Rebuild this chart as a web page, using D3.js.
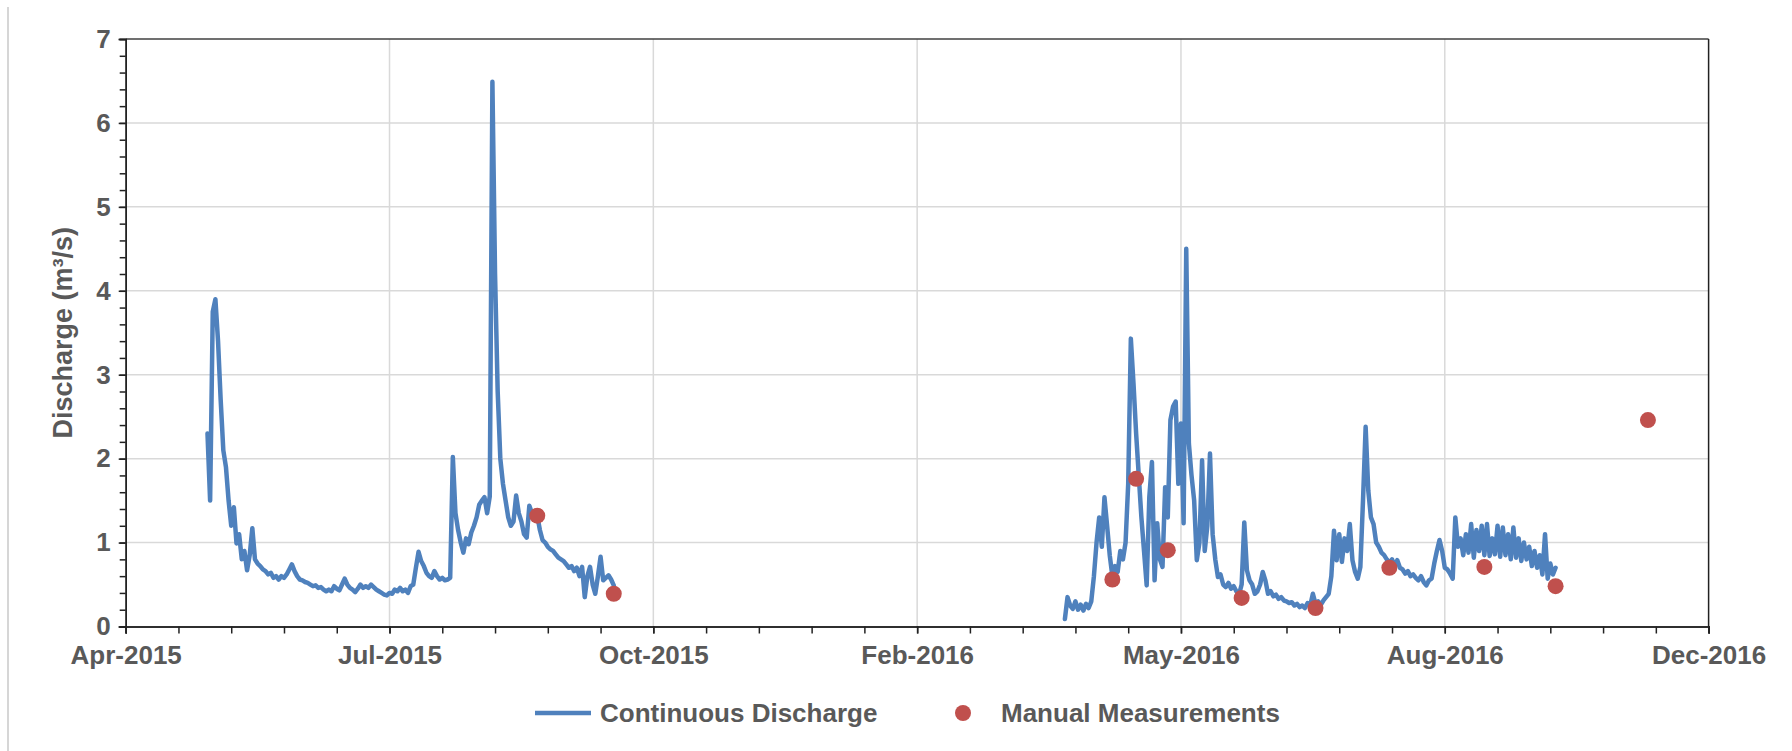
<!DOCTYPE html>
<html><head><meta charset="utf-8">
<script src="https://cdn.jsdelivr.net/npm/d3@7/dist/d3.min.js"></script>
<style>body{margin:0;background:#fff}text{font-family:"Liberation Sans",Arial,sans-serif}</style>
</head><body>
<svg id="chart" width="1792" height="751"></svg>
<script>
// ---- data ----
const xTickLabels = ["Apr-2015","Jul-2015","Oct-2015","Feb-2016","May-2016","Aug-2016","Dec-2016"];
const xDomain = ["2015-04-12","2016-12-02"];
const xMajorDays = 100;
const xMinorDays = 20;
const yTicks = [0,1,2,3,4,5,6,7];
const yMinorStep = 0.2;

const seg2015Start = "2015-05-13";
const seg2015Values = [
2.3,1.5,3.75,3.9,3.4,2.7,2.1,1.9,1.5,1.2,1.42,0.99,1.1,0.8,0.9,0.67,0.85,1.17,0.8,0.75,
0.72,0.68,0.66,0.62,0.64,0.58,0.6,0.56,0.6,0.58,0.62,0.68,0.74,0.66,0.6,0.56,0.55,0.53,0.52,0.5,
0.48,0.49,0.46,0.47,0.44,0.42,0.44,0.42,0.48,0.45,0.43,0.5,0.57,0.5,0.46,0.44,0.41,0.45,0.5,0.46,
0.48,0.46,0.5,0.47,0.44,0.42,0.4,0.38,0.37,0.4,0.39,0.44,0.42,0.46,0.42,0.44,0.4,0.48,0.5,0.7,
0.89,0.78,0.72,0.64,0.6,0.58,0.66,0.6,0.56,0.58,0.55,0.56,0.58,2.02,1.35,1.15,1.0,0.88,1.05,0.98,
1.12,1.2,1.3,1.45,1.5,1.54,1.35,1.55,6.49,4.2,2.8,2.0,1.7,1.5,1.3,1.2,1.25,1.56,1.35,1.25,
1.1,1.06,1.44,1.35,1.3,1.32,1.15,1.03,1.0,0.95,0.92,0.9,0.86,0.82,0.8,0.78,0.74,0.7,0.72,0.66,
0.7,0.6,0.71,0.35,0.6,0.71,0.5,0.39,0.6,0.83,0.55,0.58,0.61,0.56,0.49
];

const seg2016Start = "2016-04-02";
const seg2016Values = [
0.09,0.35,0.25,0.21,0.3,0.2,0.26,0.19,0.27,0.22,0.3,0.6,1.0,1.3,0.95,1.54,1.2,0.85,0.6,0.72,
0.65,0.9,0.8,1.0,1.7,3.43,2.9,2.3,1.8,1.3,0.9,0.49,1.54,1.96,0.55,1.23,0.8,0.71,1.66,1.3,
2.46,2.62,2.68,1.7,2.42,1.23,4.5,2.18,1.8,1.5,0.79,1.0,1.98,0.9,1.2,2.06,1.1,0.8,0.59,0.62,
0.5,0.47,0.52,0.45,0.48,0.42,0.38,0.5,1.24,0.67,0.55,0.5,0.39,0.42,0.5,0.65,0.55,0.39,0.42,0.36,
0.38,0.33,0.35,0.31,0.3,0.28,0.29,0.25,0.27,0.23,0.25,0.22,0.28,0.25,0.39,0.27,0.3,0.26,0.31,0.35,
0.39,0.6,1.14,0.79,1.1,0.77,1.05,0.9,1.22,0.79,0.65,0.57,0.71,1.5,2.38,1.62,1.3,1.22,1.0,0.95,
0.88,0.85,0.8,0.76,0.8,0.72,0.79,0.7,0.68,0.63,0.66,0.6,0.62,0.58,0.55,0.6,0.53,0.49,0.55,0.57,
0.75,0.9,1.03,0.9,0.7,0.68,0.63,0.57,1.3,0.95,1.05,0.85,1.1,0.88,1.22,0.82,1.15,0.9,1.2,0.85,
1.22,0.84,1.05,0.86,1.2,0.83,1.18,0.85,1.1,0.8,1.18,0.82,1.05,0.78,1.0,0.8,0.95,0.72,0.9,0.7,
0.85,0.62,1.1,0.57,0.75,0.62,0.7
];

const manualDates = ["2015-09-15","2015-10-14","2016-04-20","2016-04-29","2016-05-11","2016-06-08","2016-07-06","2016-08-03","2016-09-08","2016-10-05","2016-11-09"];
const manualValues = [1.32,0.39,0.56,1.76,0.91,0.34,0.22,0.70,0.71,0.48,2.46];

const legendLabels = ["Continuous Discharge","Manual Measurements"];
const yTitle = "Discharge (m³/s)";

// ---- drawing ----
(function () {
const parse = d3.utcParse("%Y-%m-%d");
const svg = d3.select("#chart");
const pL = 125.7, pR = 1708.6, pT = 39, pB = 626.5;
const FS = 26;
const x = d3.scaleUtc().domain(xDomain.map(parse)).range([pL, pR]);
const y = d3.scaleLinear().domain([0, 7]).range([pB, pT]);

const d0 = parse(xDomain[0]);
const majorDates = xTickLabels.map((_, i) => d3.utcDay.offset(d0, i * xMajorDays));
const minorDates = d3.range(0, (xTickLabels.length - 1) * xMajorDays + 1, xMinorDays).map(k => d3.utcDay.offset(d0, k));

svg.append("line").attr("x1", 8).attr("x2", 8).attr("y1", 7).attr("y2", 751)
  .attr("stroke", "#c8c8c8").attr("stroke-width", 1.5);

const grid = svg.append("g");
grid.selectAll(".hg").data(yTicks.slice(1, -1)).join("line")
  .attr("x1", pL).attr("x2", pR).attr("y1", d => y(d)).attr("y2", d => y(d))
  .attr("stroke", "#d9d9d9").attr("stroke-width", 1.5);
grid.selectAll(".vg").data(majorDates.slice(1, -1)).join("line")
  .attr("x1", d => x(d)).attr("x2", d => x(d)).attr("y1", pT).attr("y2", pB)
  .attr("stroke", "#d9d9d9").attr("stroke-width", 1.5);

svg.append("line").attr("x1", pL).attr("x2", pR).attr("y1", pT).attr("y2", pT).attr("stroke", "#404040").attr("stroke-width", 1.5);
svg.append("line").attr("x1", pR).attr("x2", pR).attr("y1", pT).attr("y2", pB).attr("stroke", "#222").attr("stroke-width", 1.5);

const xMinor = svg.append("g").attr("transform", `translate(0,${pB})`)
  .call(d3.axisBottom(x).tickValues(minorDates).tickSize(7).tickFormat(""));
const xAxis = svg.append("g").attr("transform", `translate(0,${pB})`)
  .call(d3.axisBottom(x).tickValues(majorDates).tickSize(7).tickPadding(12)
    .tickFormat((d, i) => xTickLabels[i]));
[xMinor, xAxis].forEach(g => {
  g.select(".domain").attr("stroke", "#222").attr("stroke-width", 1.5);
  g.selectAll(".tick line").attr("stroke", "#222").attr("stroke-width", 1.5);
});
xAxis.selectAll("text").attr("font-size", FS).attr("font-weight", "bold").attr("fill", "#595959")
  .attr("font-family", "Liberation Sans, Arial, sans-serif");

const yMinorVals = d3.range(0, 7.0001, yMinorStep);
const yMinor = svg.append("g").attr("transform", `translate(${pL},0)`)
  .call(d3.axisLeft(y).tickValues(yMinorVals).tickSize(6).tickFormat(""));
const yAxis = svg.append("g").attr("transform", `translate(${pL},0)`)
  .call(d3.axisLeft(y).tickValues(yTicks).tickSize(7).tickPadding(8).tickFormat(d3.format("d")));
[yMinor, yAxis].forEach(g => {
  g.select(".domain").attr("stroke", "#222").attr("stroke-width", 1.5);
  g.selectAll(".tick line").attr("stroke", "#222").attr("stroke-width", 1.5);
});
yAxis.selectAll("text").attr("font-size", FS).attr("font-weight", "bold").attr("fill", "#595959")
  .attr("font-family", "Liberation Sans, Arial, sans-serif");

svg.append("text").attr("transform", `translate(72,${(pT + pB) / 2}) rotate(-90)`)
  .attr("text-anchor", "middle").attr("font-size", 27).attr("font-weight", "bold").attr("fill", "#595959")
  .text(yTitle);

const line = d3.line().x(d => x(d.date)).y(d => y(d.v));
const toSeries = (start, vals) => vals.map((v, i) => ({ date: d3.utcDay.offset(parse(start), i), v }));
[toSeries(seg2015Start, seg2015Values), toSeries(seg2016Start, seg2016Values)].forEach(s => {
  svg.append("path").datum(s).attr("d", line).attr("fill", "none")
    .attr("stroke", "#4f81bd").attr("stroke-width", 4.5).attr("stroke-linejoin", "round").attr("stroke-linecap", "round");
});

svg.append("g").selectAll("circle").data(manualDates.map((d, i) => ({ date: parse(d), v: manualValues[i] })))
  .join("circle").attr("cx", d => x(d.date)).attr("cy", d => y(d.v)).attr("r", 8).attr("fill", "#c0504d");

const lg = svg.append("g");
lg.append("line").attr("x1", 535).attr("x2", 591).attr("y1", 713).attr("y2", 713).attr("stroke", "#4f81bd").attr("stroke-width", 4.5);
lg.append("text").attr("x", 600).attr("y", 722).attr("font-size", FS).attr("font-weight", "bold").attr("fill", "#595959").text(legendLabels[0]);
lg.append("circle").attr("cx", 963).attr("cy", 713).attr("r", 8).attr("fill", "#c0504d");
lg.append("text").attr("x", 1001).attr("y", 722).attr("font-size", FS).attr("font-weight", "bold").attr("fill", "#595959").text(legendLabels[1]);
})();
</script>
</body></html>
